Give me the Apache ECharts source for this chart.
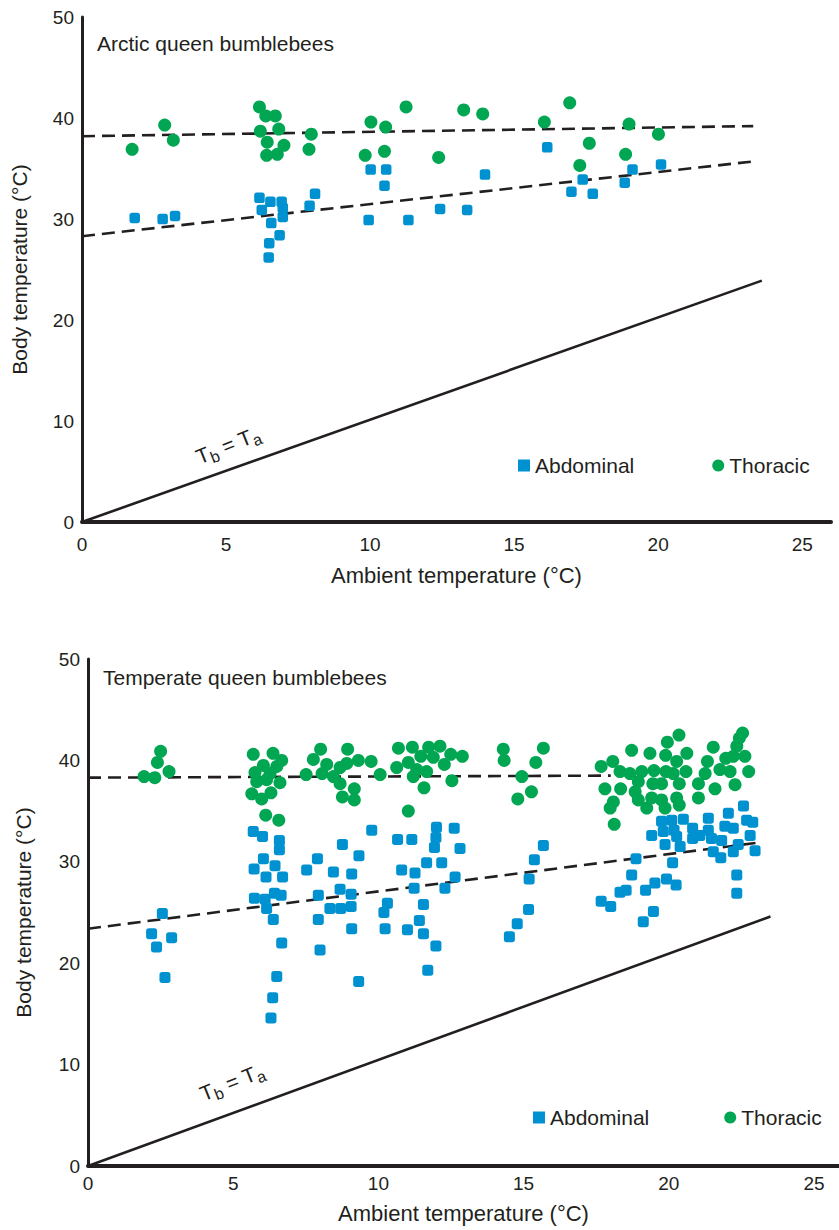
<!DOCTYPE html>
<html>
<head>
<meta charset="utf-8">
<script src="https://cdn.jsdelivr.net/npm/echarts@6.0.0/dist/echarts.min.js"></script>
<style>
html,body{margin:0;padding:0;background:#fff;}
#chart{width:839px;height:1230px;}
</style>
</head>
<body>
<div id="chart"></div>
<script>
// ---------- tick labels ----------
const xTickLabels = [0, 5, 10, 15, 20, 25];
const yTickLabels = [0, 10, 20, 30, 40, 50];

// ---------- Arctic queen bumblebees ----------
const arcticThoracic = [
  [1.74,36.9],[2.87,39.3],[3.17,37.8],
  [6.16,41.1],[6.38,40.2],[6.71,40.2],[6.19,38.7],[6.83,38.9],[6.43,37.6],[7.01,37.3],[6.41,36.3],[6.78,36.4],
  [7.96,38.4],[7.88,36.9],
  [10.03,39.6],[10.54,39.1],[9.83,36.3],[10.50,36.7],[11.25,41.1],
  [13.25,40.8],[13.91,40.4],[12.38,36.1],
  [16.05,39.6],[16.93,41.5],[17.61,37.5],[17.28,35.3],
  [18.99,39.4],[18.87,36.4],[20.01,38.4]
];
const arcticAbdominal = [
  [1.83,30.1],[2.80,30.0],[3.23,30.3],
  [6.16,32.1],[6.54,31.7],[6.93,31.7],[6.24,30.9],[6.97,31.1],[6.97,30.2],[6.57,29.6],[6.86,28.4],[6.50,27.6],[6.48,26.2],
  [7.90,31.3],[8.09,32.5],
  [10.02,34.9],[10.56,34.9],[10.50,33.3],[9.95,29.9],[11.33,29.9],
  [12.43,31.0],[13.37,30.9],[13.99,34.4],
  [16.15,37.1],[16.99,32.7],[17.38,33.9],[17.73,32.5],
  [18.84,33.6],[19.11,34.9],[20.10,35.4]
];
const arcticThoracicFit = [[0, 38.2], [23.3, 39.2]];
const arcticAbdominalFit = [[0, 28.3], [23.3, 35.7]];
const arcticIdentity = [[0, 0], [23.6, 23.9]];

// ---------- Temperate queen bumblebees ----------
const temperateThoracic = [
  [2.50,40.9],[2.39,39.8],[1.93,38.4],[2.30,38.3],[2.79,38.9],
  [5.69,40.6],[6.37,40.7],[6.67,40.0],[6.04,39.5],[6.50,39.4],[5.75,38.8],[6.27,38.7],[6.61,37.8],[5.81,37.9],[6.15,38.1],
  [5.64,36.7],[6.30,36.8],[5.98,36.2],[6.12,34.6],[6.57,34.1],
  [7.51,38.6],[7.76,40.1],[8.01,41.1],[8.06,38.7],[8.22,39.6],[8.45,38.4],[8.68,39.3],[8.94,41.1],[8.91,39.7],[9.31,40.0],
  [8.68,37.7],[9.17,37.2],[8.76,36.4],[9.17,36.1],[9.75,39.9],[10.06,38.6],
  [10.63,39.3],[10.69,41.2],[11.17,41.3],[11.03,39.8],[11.20,38.4],[11.03,35.0],[11.73,41.3],[12.12,41.4],[11.46,40.4],
  [11.89,40.3],[12.49,40.6],[12.89,40.4],[12.27,39.6],[11.32,39.1],[11.66,38.9],[11.57,37.3],[12.53,38.0],
  [14.30,41.1],[14.33,40.0],[15.68,41.2],[15.42,39.8],[14.94,38.4],[15.27,36.9],[14.80,36.2],
  [17.67,39.4],[18.07,39.9],[18.32,38.9],[18.72,41.0],[18.66,38.7],[19.07,38.9],[19.35,40.7],[18.95,37.9],[17.80,37.2],
  [18.34,37.2],[18.84,36.9],[18.09,35.9],[17.98,35.3],[18.12,33.7],[18.95,36.1],[19.24,35.3],[19.41,36.3],[19.45,37.7],
  [19.49,39.0],[19.75,36.1],[19.87,35.3],[19.75,37.7],[19.89,40.5],[19.95,41.8],[20.35,42.5],[20.27,39.9],[19.90,38.9],
  [20.15,38.7],[20.36,37.7],[20.62,40.7],[20.59,38.9],[20.27,36.3],[20.36,35.6],[21.02,36.3],[21.02,37.7],[21.25,38.7],
  [21.33,39.9],[21.53,41.3],[21.59,37.2],[21.76,39.1],[21.96,40.2],[22.11,38.9],[22.28,37.6],[22.22,40.4],[22.34,41.4],
  [22.43,42.2],[22.54,42.7],[22.62,40.4],[22.75,38.9]
];
const temperateAbdominal = [
  [2.56,24.9],[2.19,22.9],[2.36,21.6],[2.88,22.5],[2.65,18.6],
  [5.69,33.0],[6.01,32.5],[6.59,32.1],[6.59,31.2],[6.04,30.3],[5.72,29.3],[6.44,29.6],[6.13,28.5],[6.70,28.5],
  [5.73,26.4],[6.10,26.3],[6.42,26.9],[6.65,26.7],[6.15,25.4],[6.38,24.3],[6.67,22.0],[6.50,18.7],[6.36,16.6],[6.30,14.6],
  [7.53,29.2],[7.90,30.3],[8.45,29.0],[8.76,31.7],[9.08,28.8],[9.33,30.6],[7.93,26.7],[7.93,24.3],[8.33,25.4],[8.70,25.4],
  [8.68,27.3],[9.06,26.8],[9.06,25.6],[9.08,23.4],[7.99,21.3],[9.32,18.2],
  [9.77,33.1],[10.66,32.2],[11.15,32.2],[10.80,29.2],[11.26,28.9],[11.23,27.4],[10.31,25.9],[10.19,25.0],[10.23,23.4],
  [11.00,23.3],[12.00,33.4],[11.98,32.4],[11.93,31.4],[12.61,33.3],[12.81,31.3],[11.66,29.9],[12.18,29.9],[12.64,28.5],
  [12.29,27.4],[11.55,25.8],[11.41,24.2],[11.55,22.9],[11.98,21.7],[11.70,19.3],
  [15.68,31.6],[15.37,30.2],[15.19,28.3],[15.17,25.3],[14.78,23.9],[14.51,22.6],
  [17.67,26.1],[18.00,25.6],[18.32,27.0],[18.53,27.2],[18.72,28.7],[18.87,30.3],[19.20,27.2],[19.52,27.9],[19.92,28.3],
  [20.25,27.7],[19.47,25.1],[19.12,24.1],[20.13,29.9],
  [19.41,32.6],[19.75,34.0],[20.10,34.1],[20.50,34.2],[19.81,33.0],[20.18,33.1],[19.87,31.7],[20.27,32.5],[20.39,31.5],
  [20.82,33.3],[20.82,32.3],[21.07,32.6],[21.36,34.3],[21.36,33.1],[21.47,32.3],[21.53,31.0],[21.82,32.1],[21.79,30.4],
  [21.93,33.5],[22.05,34.8],[22.22,33.3],[22.22,31.0],[22.39,31.7],[22.57,35.5],[22.68,34.1],[22.89,33.9],[22.80,32.6],
  [22.97,31.1],[22.34,28.7],[22.34,26.9]
];
const temperateThoracicFit = [[0, 38.3], [18.0, 38.5]];
const temperateAbdominalFit = [[0, 23.4], [23.1, 31.9]];
const temperateIdentity = [[0, 0], [23.5, 24.6]];

// ---------- style ----------
const INK = '#231f20';
const BLUE = '#0091d0';
const GREEN = '#00a651';
const FONT = '"Liberation Sans", Arial, Helvetica, sans-serif';

const chart = echarts.init(document.getElementById('chart'), null, {renderer: 'svg'});

function xAxisCfg(gi, max, labelMargin, nameGap) {
  return {
    gridIndex: gi, type: 'value', min: 0, max: max, interval: 5,
    axisLine: {show: true, onZero: false, lineStyle: {color: INK, width: 4}},
    axisTick: {show: false}, splitLine: {show: false},
    axisLabel: {
      color: INK, fontSize: 19, fontFamily: FONT, margin: labelMargin,
      formatter: v => xTickLabels.includes(v) ? String(v) : ''
    },
    name: 'Ambient temperature (°C)', nameLocation: 'middle', nameGap: nameGap,
    nameTextStyle: {color: INK, fontSize: 22, fontFamily: FONT}
  };
}
function yAxisCfg(gi, nameGap) {
  return {
    gridIndex: gi, type: 'value', min: 0, max: 50, interval: 10,
    axisLine: {show: true, onZero: false, lineStyle: {color: INK, width: 3}},
    axisTick: {show: false}, splitLine: {show: false},
    axisLabel: {
      color: INK, fontSize: 19, fontFamily: FONT, margin: 8,
      formatter: v => yTickLabels.includes(v) ? String(v) : ''
    },
    name: 'Body temperature (°C)', nameLocation: 'middle', nameGap: nameGap,
    nameTextStyle: {color: INK, fontSize: 21, fontFamily: FONT}
  };
}
function lineSeries(gi, data, dashed) {
  return {
    type: 'line', xAxisIndex: gi, yAxisIndex: gi, data: data, symbol: 'none',
    silent: true, z: 1, animation: false,
    lineStyle: {color: INK, width: 2.6, type: dashed ? [13, 7] : 'solid'}
  };
}
function scatter(gi, name, data, symbol, size, color, z) {
  return {
    type: 'scatter', name: name, xAxisIndex: gi, yAxisIndex: gi, data: data,
    symbol: symbol, symbolSize: size, itemStyle: {color: color, opacity: 1},
    z: z, animation: false
  };
}
function legendCfg(left, top, gap) {
  return {
    left: left, top: top, orient: 'horizontal', itemGap: gap,
    itemWidth: 12, itemHeight: 12, selectedMode: false,
    textStyle: {color: INK, fontSize: 21, fontFamily: FONT},
    data: [
      {name: 'Abdominal', icon: 'rect', itemStyle: {color: BLUE}},
      {name: 'Thoracic', icon: 'circle', itemStyle: {color: GREEN}}
    ]
  };
}
function tbta(x, y) {
  return {
    type: 'text', x: x, y: y, rotation: 0.38, z: 10,
    style: {
      text: '{t|T}{s|b}{t| = T}{s|a}',
      align: 'center', verticalAlign: 'middle', fill: INK,
      font: '21px ' + FONT,
      rich: {
        t: {fontSize: 21, fontFamily: FONT, fill: INK},
        s: {fontSize: 16, fontFamily: FONT, fill: INK, padding: [12, 0, 0, 0]}
      }
    }
  };
}

const option = {
  backgroundColor: '#ffffff',
  animation: false,
  textStyle: {fontFamily: FONT},
  title: [
    {text: 'Arctic queen bumblebees', left: 97, top: 33, padding: 0,
     textStyle: {color: INK, fontSize: 21, fontWeight: 'normal', fontFamily: FONT}},
    {text: 'Temperate queen bumblebees', left: 103, top: 667, padding: 0,
     textStyle: {color: INK, fontSize: 21, fontWeight: 'normal', fontFamily: FONT}}
  ],
  legend: [legendCfg(513, 450, 78), legendCfg(528, 1102, 75)],
  grid: [
    {left: 82, top: 17, width: 749, height: 505, containLabel: false, outerBoundsMode: 'none'},
    {left: 88, top: 659, width: 751, height: 507, containLabel: false, outerBoundsMode: 'none'}
  ],
  xAxis: [xAxisCfg(0, 26, 13, 42), xAxisCfg(1, 25.86, 8, 36)],
  yAxis: [yAxisCfg(0, 52), yAxisCfg(1, 54)],
  series: [
    lineSeries(0, arcticIdentity, false),
    lineSeries(0, arcticThoracicFit, true),
    lineSeries(0, arcticAbdominalFit, true),
    scatter(0, 'Thoracic', arcticThoracic, 'circle', 13, GREEN, 3),
    scatter(0, 'Abdominal', arcticAbdominal, 'roundRect', 10.5, BLUE, 4),
    lineSeries(1, temperateIdentity, false),
    lineSeries(1, temperateThoracicFit, true),
    lineSeries(1, temperateAbdominalFit, true),
    scatter(1, 'Thoracic', temperateThoracic, 'circle', 13, GREEN, 3),
    scatter(1, 'Abdominal', temperateAbdominal, 'roundRect', 11, BLUE, 4)
  ],
  graphic: [tbta(228, 445), tbta(232, 1082)]
};
chart.setOption(option);
</script>
</body>
</html>
